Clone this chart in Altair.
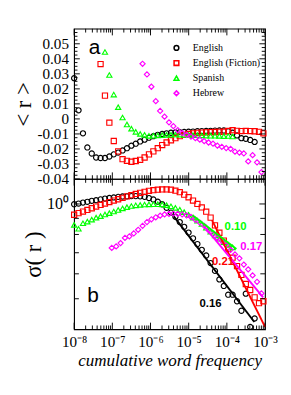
import altair as alt
import pandas as pd

# ---------------- data ----------------
LANGS = ["English", "English (Fiction)", "Spanish", "Hebrew"]
COLORS = ["#000000", "#ff0000", "#00ff00", "#ff00ff"]
SHAPES = ["circle", "square", "triangle-up", "diamond"]

# log10 of cumulative word frequency (bin centres)
eng_logf = [-8.000, -7.885, -7.769, -7.654, -7.539, -7.424, -7.308, -7.193, -7.078, -6.962,
            -6.847, -6.732, -6.617, -6.501, -6.386, -6.271, -6.155, -6.040, -5.925, -5.810,
            -5.694, -5.579, -5.464, -5.348, -5.233, -5.118, -5.003, -4.887, -4.772, -4.657,
            -4.541, -4.426, -4.311, -4.196, -4.080, -3.965, -3.850, -3.734, -3.619, -3.504,
            -3.389, -3.273]
eng_r = [0.0271, 0.0057, -0.0096, -0.0190, -0.0230, -0.0257, -0.0260, -0.0260, -0.0250, -0.0236,
         -0.0224, -0.0210, -0.0195, -0.0178, -0.0165, -0.0150, -0.0138, -0.0125, -0.0115, -0.0106,
         -0.0100, -0.0096, -0.0092, -0.0090, -0.0088, -0.0087, -0.0085, -0.0084, -0.0082, -0.0081,
         -0.0080, -0.0079, -0.0078, -0.0077, -0.0077, -0.0082, -0.0092, -0.0110, -0.0128, -0.0132,
         -0.0140, -0.0153]
eng_sigma = [0.998, 1.003, 1.010, 1.016, 1.023, 1.028, 1.034, 1.040, 1.045, 1.049,
             1.053, 1.056, 1.057, 1.059, 1.059, 1.057, 1.053, 1.044, 1.033, 1.017,
             0.998, 0.972, 0.939, 0.910, 0.876, 0.846, 0.811, 0.778, 0.746, 0.715,
             0.686, 0.649, 0.613, 0.576, 0.549, 0.515, 0.515, 0.491, 0.458, 0.519,
             0.407, 0.433]

fic_logf = [-8.000, -7.885, -7.769, -7.654, -7.539, -7.424, -7.308, -7.193, -7.078, -6.962,
            -6.847, -6.732, -6.617, -6.501, -6.386, -6.271, -6.155, -6.040, -5.925, -5.810,
            -5.694, -5.579, -5.464, -5.348, -5.233, -5.118, -5.003, -4.887, -4.772, -4.657,
            -4.541, -4.426, -4.311, -4.196, -4.080, -3.965, -3.850, -3.734, -3.619, -3.504,
            -3.389, -3.273, -3.158, -3.043]
fic_r = [None, None, None, None, None, None, 0.0365, 0.0155, -0.0025, -0.0147,
         -0.0216, -0.0268, -0.0279, -0.0285, -0.0280, -0.0272, -0.0257, -0.0236, -0.0216, -0.0195,
         -0.0174, -0.0157, -0.0142, -0.0128, -0.0115, -0.0106, -0.0100, -0.0096, -0.0093, -0.0091,
         -0.0089, -0.0088, -0.0087, -0.0086, -0.0085, -0.0080, -0.0075, -0.0079, -0.0081, -0.0080,
         -0.0081, -0.0082, -0.0086, -0.0096]
fic_sigma = [0.924, 0.935, 0.946, 0.957, 0.969, 0.981, 0.993, 1.003, 1.014, 1.025,
             1.035, 1.046, 1.057, 1.066, 1.076, 1.085, 1.093, 1.101, 1.106, 1.110,
             1.112, 1.112, 1.110, 1.102, 1.090, 1.070, 1.050, 1.025, 1.000, 0.975,
             0.945, 0.905, 0.855, 0.810, 0.765, 0.720, 0.675, 0.635, 0.595, 0.557,
             0.533, 0.505, 0.484, 0.491]

spa_logf = [-8.000, -7.885, -7.769, -7.654, -7.539, -7.424, -7.308, -7.193, -7.078, -6.962,
            -6.847, -6.732, -6.617, -6.501, -6.386, -6.271, -6.155, -6.040, -5.925, -5.810,
            -5.694, -5.579, -5.464, -5.348, -5.233, -5.118, -5.003, -4.887, -4.772, -4.657,
            -4.541, -4.426, -4.311, -4.196, -4.080, -3.965, -3.850]
spa_r = [None, None, None, None, None, None, None, 0.0445, 0.0292, 0.0162,
         0.0078, 0.0009, -0.0037, -0.0065, -0.0086, -0.0100, -0.0106, -0.0113, -0.0112, -0.0110,
         -0.0108, -0.0106, -0.0105, -0.0104, -0.0105, -0.0106, -0.0107, -0.0108, -0.0108, -0.0110,
         -0.0111, -0.0112, -0.0112, -0.0113, -0.0115, -0.0114, -0.0117]
spa_sigma = [0.858, 0.834, 0.868, 0.879, 0.892, 0.905, 0.915, 0.926, 0.935, 0.946,
             0.957, 0.968, 0.977, 0.985, 0.990, 0.993, 0.996, 0.997, 0.998, 0.998,
             0.997, 0.991, 0.983, 0.972, 0.959, 0.942, 0.924, 0.905, 0.885, 0.864,
             0.840, 0.817, 0.794, 0.775, 0.756, 0.741, 0.728]

heb_logf = [-7.015, -6.900, -6.784, -6.669, -6.554, -6.439, -6.323, -6.208, -6.093, -5.977,
            -5.862, -5.747, -5.632, -5.516, -5.401, -5.286, -5.170, -5.055, -4.940, -4.825,
            -4.709, -4.594, -4.479, -4.363, -4.248, -4.133, -4.018, -3.902, -3.787, -3.672,
            -3.556, -3.441, -3.326, -3.210, -3.095]
heb_r = [None, None, None, None, None, None, None, 0.0367, 0.0296, 0.0214,
         0.0118, 0.0053, 0.0015, -0.0023, -0.0048, -0.0075, -0.0094, -0.0106, -0.0117, -0.0128,
         -0.0138, -0.0148, -0.0157, -0.0165, -0.0178, -0.0186, -0.0194, -0.0199, -0.0218, -0.0224,
         -0.0230, -0.0283, -0.0241, -0.0289, -0.0354]
heb_sigma = [0.725, 0.733, 0.751, 0.780, 0.789, 0.806, 0.828, 0.852, 0.876, 0.894,
             0.907, 0.918, 0.926, 0.930, 0.931, 0.930, 0.926, 0.920, 0.909, 0.891,
             0.873, 0.852, 0.825, 0.800, 0.780, 0.764, 0.741, 0.715, 0.691, 0.672,
             0.642, 0.620, 0.593, 0.566, 0.520]

# power-law fits in panel b (start / end points) and their exponent labels
fit_lang = ["English", "English (Fiction)", "Spanish", "Hebrew"]
fit_logf_start = [-5.39, -4.39, -4.90, -4.60]
fit_logf_end = [-3.28, -3.00, -3.75, -3.05]
fit_sigma_start = [0.913, 0.888, 0.920, 0.850]
fit_sigma_end = [0.4217, 0.407, 0.720, 0.505]
slope_text = ["0.16", "0.21", "0.10", "0.17"]
slope_logf = [-4.429, -4.101, -3.771, -3.362]
slope_sigma = [0.483, 0.659, 0.848, 0.734]

# axis ticks / labels
x_exps = [-8, -7, -6, -5, -4, -3]
x_labels = ["10\u207b\u2078", "10\u207b\u2077", "10\u207b\u2076", "10\u207b\u2075", "10\u207b\u2074", "10\u207b\u00b3"]
x_minor_mult = [2, 3, 4, 5, 6, 7, 8, 9]
r_major = [-0.04, -0.03, -0.02, -0.01, 0.0, 0.01, 0.02, 0.03, 0.04, 0.05]
r_labels = ["-0.04", "-0.03", "-0.02", "-0.01", "0", "0.01", "0.02", "0.03", "0.04", "0.05"]
r_minor = [-0.0375, -0.035, -0.0325, -0.0275, -0.025, -0.0225, -0.0175, -0.015, -0.0125,
           -0.0075, -0.005, -0.0025, 0.0025, 0.005, 0.0075, 0.0125, 0.015, 0.0175,
           0.0225, 0.025, 0.0275, 0.0325, 0.035, 0.0375, 0.0425, 0.045, 0.0475,
           0.0525, 0.055, 0.0575]
s_major = [1.0]
s_minor = [0.5, 0.6, 0.7, 0.8, 0.9]

# ---------------- tables ----------------
rows = []
for lang, lf, rr, ss in [("English", eng_logf, eng_r, eng_sigma),
                         ("English (Fiction)", fic_logf, fic_r, fic_sigma),
                         ("Spanish", spa_logf, spa_r, spa_sigma),
                         ("Hebrew", heb_logf, heb_r, heb_sigma)]:
    for x, r, s in zip(lf, rr, ss):
        rows.append({"lang": lang, "f": 10.0 ** x, "r": r, "s": s})
df = pd.DataFrame(rows)
df_top = df.dropna(subset=["r"])

fit_rows = []
for i, lang in enumerate(fit_lang):
    fit_rows.append({"lang": lang, "f": 10.0 ** fit_logf_start[i], "s": fit_sigma_start[i]})
    fit_rows.append({"lang": lang, "f": 10.0 ** fit_logf_end[i], "s": fit_sigma_end[i]})
df_fit = pd.DataFrame(fit_rows)
df_slope = pd.DataFrame({"lang": fit_lang, "txt": slope_text,
                         "f": [10.0 ** v for v in slope_logf], "s": slope_sigma})

x_major_vals = [10.0 ** e for e in x_exps]
x_minor_vals = [m * 10.0 ** e for e in x_exps[:-1] for m in x_minor_mult]

# ---------------- styling ----------------
W, H = 202, 159
SERIF = "Liberation Serif"
xscale = alt.Scale(type="log", domain=[1e-8, 1e-3], nice=False)
rscale = alt.Scale(domain=[-0.04, 0.06], nice=False, zero=False)
sscale = alt.Scale(type="log", domain=[0.4, 1.2], nice=False)
cscale = alt.Scale(domain=LANGS, range=COLORS)
shscale = alt.Scale(domain=LANGS, range=SHAPES)

x_expr = " : ".join(
    f"round(log(datum.value)/LN10) == {e} ? '{t}'" for e, t in zip(x_exps, x_labels)) + " : ''"
r_expr = " : ".join(
    f"round(datum.value*100) == {round(v * 100)} ? '{t}'" for v, t in zip(r_major, r_labels)) + " : ''"

legend = alt.Legend(title=None, orient="none", legendX=103, legendY=15, padding=0,
                    labelFont=SERIF, labelFontSize=10.5, labelColor="black",
                    symbolSize=25, symbolStrokeWidth=1.6, rowPadding=4, labelOffset=12)

common = dict(ticks=False, domain=False, grid=False, labelOverlap=False, labelFlush=False,
              labelColor="black", titleColor="black", titleFontWeight="normal",
              labelFont=SERIF, titleFont=SERIF)
ax_top_y = alt.Axis(values=r_major, labelExpr=r_expr, title="< r >", labelFontSize=16,
                    labelPadding=6, titleFontSize=24, titlePadding=2, **common)
ax_bot_x = alt.Axis(values=x_major_vals, labelExpr=x_expr, title="cumulative word frequency",
                    labelFontSize=16, labelPadding=5, titleFontSize=18, titleFontStyle="italic",
                    titleY=38, titleBaseline="alphabetic", **common)
ax_bot_y = alt.Axis(values=s_major, labelExpr="'10\u2070'", title="\u03c3( r )", labelFontSize=17,
                    labelPadding=6, titleFontSize=24, titlePadding=2, **common)


def xticks(height, xaxis):
    out = []
    for vals, ln in [(x_major_vals, 7), (x_minor_vals, 4)]:
        d = pd.DataFrame({"v": vals})
        base = alt.Chart(d).mark_rule(color="black", strokeWidth=1)
        out.append(base.encode(x=alt.X("v:Q", scale=xscale, axis=xaxis),
                               y=alt.value(height), y2=alt.value(height - ln)))
        out.append(base.encode(x=alt.X("v:Q", scale=xscale, axis=xaxis),
                               y=alt.value(0), y2=alt.value(ln)))
    return out


def yticks(major, minor, scale, yaxis, lmaj, lmin):
    out = []
    for vals, ln in [(major, lmaj), (minor, lmin)]:
        d = pd.DataFrame({"v": vals})
        base = alt.Chart(d).mark_rule(color="black", strokeWidth=1)
        out.append(base.encode(y=alt.Y("v:Q", scale=scale, axis=yaxis),
                               x=alt.value(0), x2=alt.value(ln)))
        out.append(base.encode(y=alt.Y("v:Q", scale=scale, axis=yaxis),
                               x=alt.value(W), x2=alt.value(W - ln)))
    return out


# ---------------- panel a ----------------
pts_top = alt.Chart(df_top).mark_point(filled=False, size=30, strokeWidth=1.2, opacity=1).encode(
    x=alt.X("f:Q", scale=xscale, axis=None),
    y=alt.Y("r:Q", scale=rscale, axis=ax_top_y),
    color=alt.Color("lang:N", scale=cscale, legend=legend),
    shape=alt.Shape("lang:N", scale=shscale, legend=legend),
)
label_a = alt.Chart(pd.DataFrame({"t": ["a"], "f": [10.0 ** -7.466], "r": [0.0476]})).mark_text(
    font="Liberation Sans", fontSize=22, color="black").encode(
    x=alt.X("f:Q", scale=xscale, axis=None), y=alt.Y("r:Q", scale=rscale, axis=ax_top_y), text="t:N")

top = alt.layer(pts_top, label_a, *xticks(H, None),
                *yticks(r_major, r_minor, rscale, ax_top_y, 6, 3.5)).properties(width=W, height=H)

# ---------------- panel b ----------------
pts_bot = alt.Chart(df).mark_point(filled=False, size=30, strokeWidth=1.2, opacity=1).encode(
    x=alt.X("f:Q", scale=xscale, axis=ax_bot_x),
    y=alt.Y("s:Q", scale=sscale, axis=ax_bot_y),
    color=alt.Color("lang:N", scale=cscale, legend=None),
    shape=alt.Shape("lang:N", scale=shscale, legend=None),
)
fit_lines = alt.Chart(df_fit).mark_line(strokeWidth=2).encode(
    x=alt.X("f:Q", scale=xscale, axis=ax_bot_x),
    y=alt.Y("s:Q", scale=sscale, axis=ax_bot_y),
    color=alt.Color("lang:N", scale=cscale, legend=None),
    detail="lang:N",
)
slope_lbl = alt.Chart(df_slope).mark_text(font="Liberation Sans", fontWeight="bold", fontSize=12).encode(
    x=alt.X("f:Q", scale=xscale, axis=ax_bot_x),
    y=alt.Y("s:Q", scale=sscale, axis=ax_bot_y),
    text="txt:N",
    color=alt.Color("lang:N", scale=cscale, legend=None),
)
label_b = alt.Chart(pd.DataFrame({"t": ["b"], "f": [10.0 ** -7.507], "s": [0.514]})).mark_text(
    font="Liberation Sans", fontSize=22, color="black").encode(
    x=alt.X("f:Q", scale=xscale, axis=ax_bot_x), y=alt.Y("s:Q", scale=sscale, axis=ax_bot_y),
    text="t:N")

bottom = alt.layer(pts_bot, fit_lines, slope_lbl, label_b, *xticks(H, ax_bot_x),
                   *yticks(s_major, s_minor, sscale, ax_bot_y, 6, 5)).properties(width=W, height=H)

chart = alt.vconcat(top, bottom, spacing=0, bounds="flush").resolve_scale(
    color="independent", shape="independent").resolve_legend(
    color="independent", shape="independent").properties(
    padding={"left": 4, "top": 9, "right": 5, "bottom": 5}, background="white").configure_view(
    stroke="black", strokeWidth=1.2)

chart.save("out.html", embed_options={"renderer": "svg", "actions": False})
